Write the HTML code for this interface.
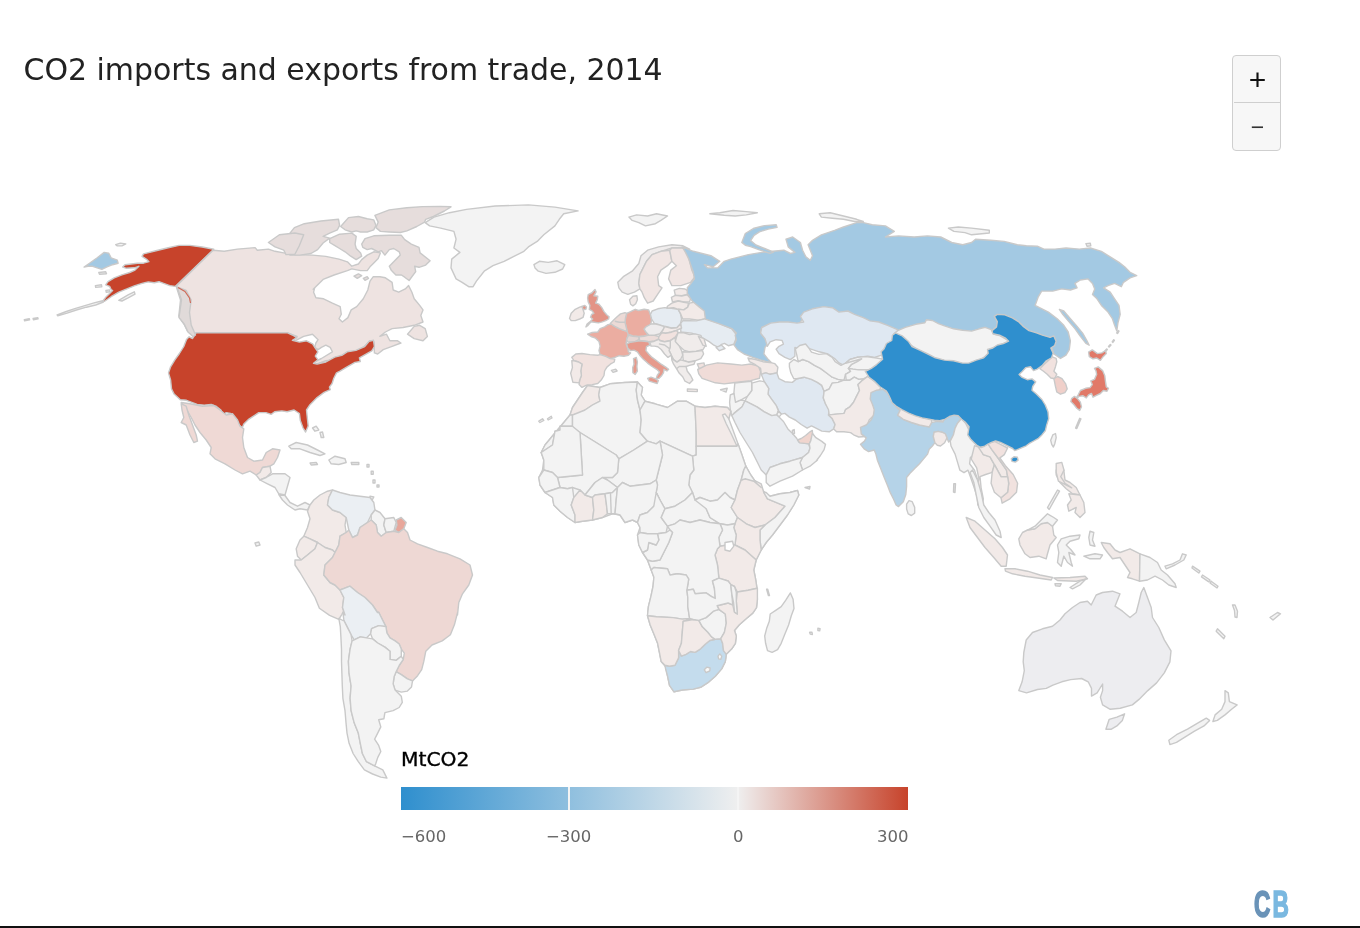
<!DOCTYPE html>
<html lang="en">
<head>
<meta charset="utf-8">
<title>CO2 imports and exports from trade, 2014</title>
<style>
html,body{margin:0;padding:0;background:#fff;}
body{width:1360px;height:928px;position:relative;overflow:hidden;font-family:"DejaVu Sans","Liberation Sans",sans-serif;}
#title{position:absolute;left:23.5px;top:50px;font-size:29.95px;line-height:40px;color:#222;white-space:nowrap;letter-spacing:0px;font-weight:normal;margin:0;}
#zoom{position:absolute;left:1232px;top:54.6px;width:47px;height:94px;border:1.5px solid #cfcfcf;border-radius:4px;background:#f7f7f7;box-sizing:content-box;}
#zoom div{position:absolute;left:1px;width:47px;height:47px;text-align:center;color:#111;font-family:"Liberation Sans",sans-serif;}
#zin{top:0;height:46px !important;border-bottom:1.5px solid #cfcfcf;font-size:30px;line-height:47px;}
#zout{top:47.5px;font-size:23px;line-height:49px;color:#333 !important;}
#map{position:absolute;left:0;top:0;}

#legtitle{position:absolute;left:401px;top:746.5px;font-size:20.3px;line-height:24px;color:#000;-webkit-text-stroke:0.35px #000;}
#bar{position:absolute;left:401px;top:787px;width:507px;height:23px;background:linear-gradient(to right,#2f8fce 0%,#efefef 66.4%,#c7432b 100%);}
#bar i{position:absolute;top:0;width:1.5px;height:23px;background:#f4f4f4;}
.lab{position:absolute;top:826px;font-size:16.5px;line-height:22px;color:#666;white-space:nowrap;}
#cb{position:absolute;left:1254.2px;top:885.3px;font-family:"Liberation Sans",sans-serif;font-weight:bold;font-size:36.6px;line-height:40px;transform-origin:0 0;transform:scaleX(0.62);letter-spacing:3.5px;white-space:nowrap;}
#cb .c{color:#6a93b8;-webkit-text-stroke:1.6px #6a93b8;}
#cb .b{color:#7ab8e0;-webkit-text-stroke:1.6px #7ab8e0;}
#bottom{position:absolute;left:0;top:926.4px;width:1360px;height:2px;background:#111;}
</style>
</head>
<body>
<svg id="map" width="1360" height="928" viewBox="0 0 1360 928">
<g fill="#f3f3f3" stroke="#c9c9c9" stroke-width="1.4" stroke-linejoin="round">
<path fill="#c7432b" d="M213.8,249.3 202.2,247 189.9,245.4 179,245.4 168.2,247.8 155.9,250.8 143.5,253.9 142,256.3 146.6,259.3 148.9,261.7 143.5,263.2 137.4,263.2 131.2,264 125,264.7 122.7,267.1 126.5,268.3 134.3,267.8 138.9,266.3 135,270.1 129.6,272.5 121.9,274.8 114.2,277.9 108,281.7 105.7,284.8 109.6,286.4 111.1,289.5 112.6,290.5 106.5,296.4 102.6,301.3 104.6,301.3 111.1,296.7 118.8,292.1 128.1,288.4 134.3,285.9 142,283.4 148.2,281.9 154.3,282.7 159,281.7 163.6,283.3 169.8,285.6 175.2,286.4Z"/>
<path d="M57.1,314.9 66.3,311.5 75.6,308.4 84.9,305.7 94.1,302.9 102.6,300.7 103.4,302 95.7,305 86.4,307.2 76.4,310 67.1,313.1 57.8,315.9Z"/>
<path d="M118.8,300.3 128.1,294.9 134.3,291.8 135,294.1 128.1,297.9 121.9,301Z"/>
<path d="M24.3,319.6 29.3,318.6 29.6,319.9 24.6,320.8Z"/>
<path d="M33.1,318.5 37.8,317.6 38.1,318.8 33.4,319.7Z"/>
<path fill="#a3c9e3" d="M84.1,267.1 89.5,263.2 97.2,257.8 104.2,252.4 108.8,253.2 111.1,257.8 117.3,260.1 118.1,263.2 112.6,264.7 106.5,267.1 101.8,269.4 97.2,267.8 92.6,266.3 87.9,266.3Z"/>
<path d="M115.7,244.7 120.4,243.1 125.8,243.9 121.9,245.9 117.3,245.9Z"/>
<path d="M98.8,272.5 105.7,271.7 106.5,273.7 99.5,274.3Z"/>
<path d="M95.4,285.6 101.5,284.8 101.8,286.8 95.7,287.4Z"/>
<path d="M105.9,290.5 109.6,289.9 109.9,291.8 106.2,292.2Z"/>
<path fill="#eee3e1" d="M213.1,250.2 224.2,251.3 237.4,249.1 255.1,247.6 257.3,250.2 268.4,249.1 275,251.3 283.8,252.9 294.9,254.6 312.5,255.1 325.8,256.4 339,259.1 347.4,261.8 351.8,266.2 358.4,264 361.7,259.6 367.2,255.1 373.8,251.8 380.4,252.9 378.2,258.5 373.8,262.9 370.5,266.2 367.2,270.6 360.6,270.6 351.8,268.9 347.4,270.6 334.1,275 323.1,279.4 313.2,289.3 314.7,287.8 313.6,292.2 315.9,297.7 323.6,298.8 332.4,303.2 340.2,306.6 341.3,314.3 339,318.7 342.4,322 347.9,317.6 351.2,309.9 356.7,306.6 363.3,298.8 367.8,290 370,281.1 373.3,276.7 379.9,276.7 385.4,277.8 392.1,282.3 393.2,290 398.7,292.2 405.3,288.9 408.6,285.6 411.9,292.2 414.2,298.8 419.7,305.4 423,309.9 420.8,315.4 423,322 414.2,325.3 403.1,327.5 392.1,328.6 385.4,332 379.9,336.4 386.5,334.2 389.9,340.8 397.6,340.8 400.9,343 392.1,346.3 383.2,349.6 377.7,354 374.4,352.9 373.9,341.9 370,340.8 363.3,347.4 354.5,354 343.5,358.5 334.6,359.6 325.8,360.7 317,364 312.5,362.9 321.4,358.5 332.4,351.8 330.2,347.4 325.8,345.2 321.4,347.4 318.1,349.6 314.7,347.4 315.9,343 318.1,339.7 312.5,334.2 303.7,336.4 294.9,340.8 292.7,338.6 297.1,336.4 288.2,333.1 194.4,333.1 193.8,336.2 187.5,331.2 183.8,323.8 178.8,316.2 180.5,300 176.2,286.2Z"/>
<path fill="#c7432b" d="M189.1,336.8 192.6,338.5 196.2,332.7 287.1,332.7 292.4,335 296.8,337.6 292.4,340.3 299.4,342.1 306.5,340.8 312.6,343.8 315.3,348.2 317.9,351.8 315.3,356.2 317.9,359.7 313.5,363.2 317.1,364.1 325.9,362 334.7,357.1 341.8,355.3 347.1,351.8 355.9,350.4 364.7,346.5 369.1,341.2 373.5,340.3 374.4,346.5 371.8,350.9 365.6,354.4 359.4,357.9 360.3,361.5 355,362.4 347.1,366.8 340,371.2 336.5,372.9 333.8,378.2 332.1,383.5 329.4,387.1 330.3,389.7 324.1,392.4 317.1,397.6 310,404.7 306.5,410 307.4,418.8 308.2,425.9 305.6,432.1 302.9,427.6 300.3,420.6 299.4,413.5 294.1,410 287.1,411.8 281.8,410.9 274.7,411.8 271.2,414.4 265.9,412.6 258.8,412.6 253.5,416.2 248.2,419.7 243.8,424.1 242.1,428 238.5,424.1 235.9,418.8 230.6,413.5 226.2,412.6 223.5,415.3 220.9,410 216.5,406.5 211.2,404.4 204.1,405.1 197.1,404.4 186.5,400.3 180.3,399.8 174.1,394.1 171.5,388.8 170.6,380 168.5,372.9 170.6,366.8 175,359.7 179.4,353.5 183.8,346.5 186.5,339.4Z"/>
<path fill="#e6dddc" d="M290,233.1 294.4,227.6 304.3,223.7 320.9,221 338.5,219.3 339.6,225.4 337.4,229.8 329.7,233.1 323.1,236.4 329.7,238.1 323.1,243 317.6,249.6 311,253.5 299.9,255.1 290,255.1 285.6,246.3Z"/>
<path fill="#e6dddc" d="M268.4,242.5 279.4,234.8 294.9,233 303.7,234.8 299.3,245.8 294.9,254.2 286,254.6 283.8,250.2 275,246.9Z"/>
<path fill="#e6dddc" d="M329.7,238.6 339.6,234.2 351.8,233.1 356.2,236.4 355.1,244.1 356.2,248.5 360.6,252.9 361.7,256.2 356.2,259.6 350.7,256.2 345.1,251.8 339.6,248.5 334.1,245.2 329.7,242.5Z"/>
<path fill="#e6dddc" d="M340.7,226.5 348.5,217.6 358.4,216.5 367.2,218.7 373.8,219.9 376,225.4 373.8,229.8 367.2,232 360.6,232 356.2,230.9 351.8,232 345.1,229.8Z"/>
<path fill="#e6dddc" d="M374.9,215.4 389.3,209.9 406.9,207.7 422.4,206.6 440,206.4 451,206.8 444.4,211 433.4,216.5 425.7,219.3 424.6,222.1 416.8,226.5 406.9,230.9 400.3,232.5 389.3,232 380.4,231.4 376,227.6 378.2,222.1Z"/>
<path fill="#e6dddc" d="M361.7,244.1 365,238.6 373.8,235.8 389.3,235.3 401.4,235.3 404.7,239.7 411.3,244.1 419,247.4 420.1,252.9 430.1,260.7 425.7,265.1 419,267.3 414.6,266.2 415.7,271.7 409.1,280.5 404.7,277.2 401.4,275 395.9,275 391.5,270.6 389.3,266.2 395.9,259.6 400.3,255.1 399.2,251.8 393.7,248.5 389.3,249.6 384.9,255.1 381.5,250.7 378.2,251.8 371.6,248.5 367.2,249.6 362.8,247.4Z"/>
<path fill="#e6dddc" d="M354,276.1 358.4,273.9 361.7,275.6 357.3,278.3Z"/>
<path fill="#e6dddc" d="M363.3,278.3 367.2,276.7 368.5,278.5 365,280.3Z"/>
<path fill="#eee3e1" d="M407.5,334.2 414.2,326.4 419.7,325.3 425.2,328.6 427.4,336.4 423,340.8 414.2,338.6Z"/>
<path d="M466.5,209.4 495.2,206 528.4,204.9 554.9,207.1 578.1,210.9 563.7,213.8 559.3,219.3 554.9,225.9 543.8,234.8 537.2,241.4 528.4,246.9 523.9,251.3 512.9,256.9 504.1,261.3 493,265.7 484.2,271.2 476.4,281.1 473.1,286.7 468.7,286.7 462.1,282.3 456.1,278.9 451,267.9 451.7,259.1 459.9,252.4 453.9,248 456.1,239.2 453.9,231.4 440.7,228.1 429.6,225.9 425.2,222.6 434,217.1 449.5,212.7Z"/>
<path d="M533.9,264.6 539.4,261.3 548.2,262.4 557.1,260.8 564.8,264.6 562.6,269 554.9,272.3 546,273.4 538.3,271.2 535,267.9Z"/>
<path d="M628.9,217.1 636.6,214.9 647.6,216 656.5,213.8 667.5,216 660.9,220.4 655.4,223.7 645.4,225.9 638.8,222.6 632.2,220.4Z"/>
<path fill="#f0eded" d="M617.8,282.3 623.3,276.7 632.2,271.2 638.8,263.5 641,255.7 647.6,250.2 658.7,246.9 671.9,244.7 683,245.8 689.6,249.1 681.9,248 671.9,248 660.9,251.3 652.1,254.6 646.5,261.3 643.2,267.9 639.9,274.5 638.8,283.4 639.9,288.9 634.4,292.2 627.8,294.4 622.2,292.2 618.9,287.8Z"/>
<path fill="#f1e6e4" d="M639.9,288.9 638.8,283.4 639.9,274.5 643.2,267.9 646.5,261.3 652.1,254.6 660.9,251.3 669.7,250.2 671.9,261.3 667.5,265.7 660.9,270.1 657.6,276.7 658.7,285.6 662,287.8 657.6,294.4 653.2,301 647.6,303.2 644.3,297.7 642.1,292.2Z"/>
<path fill="#f1e6e4" d="M669.7,250.2 671.9,248 683,248 687.4,252.4 689.6,261.3 691.8,270.1 695.1,276.7 690.7,282.3 680.8,285.6 671.9,285.6 668.6,278.9 670.8,270.1 676.4,265.7 671.9,261.3Z"/>
<path fill="#f2eae8" d="M629.5,299.7 632.9,296.3 636.9,295.8 637.4,299.7 635.7,303.7 632.9,305.9 630.6,304.2Z"/>
<path fill="#e39486" d="M588.2,294.6 591.6,292.9 595,289.5 596.1,291.8 593.9,295.8 597.8,296.3 597.3,299.7 595.6,303.1 599,304.2 601.8,307.6 604,311.6 606.9,315 609.1,316.7 608.6,319 605.7,320.6 602.3,321.8 598.4,322.9 594.4,322.3 591,321.8 587.6,325.7 585.9,326.9 587.1,324 590.5,321.2 592.7,319 590.5,317.3 591.6,314.4 593.9,313.3 592.2,311 589.3,309.3 589.9,305.4 588.2,302 587.6,298Z"/>
<path fill="#e39486" d="M582,306.5 584.8,305.4 586.5,307.1 585.9,309.3 583.1,309.9Z"/>
<path fill="#f2eae8" d="M569.5,318.4 571.2,313.3 575.2,309.3 579.7,307.1 582,306.5 583.1,309.9 584.2,313.3 583.1,317.3 579.7,319 575.2,320.6 571.2,320.6Z"/>
<path fill="#ebada1" d="M587.6,334.2 592.2,332.5 597.8,332 600.1,328.6 604.6,326.9 608,324.6 611.4,324 614.8,326.3 619.3,328.6 623.9,330.3 627.2,331.4 628.4,334.8 626.7,339.3 626.1,343.9 627.8,348.4 628.4,351.8 630.6,352.9 628.4,355.2 623.9,356.3 619.3,355.7 614.8,357.4 610.3,358.6 605.7,356.3 600.1,354.6 599,350.6 600.1,346.1 599,341.6 595.6,338.2 591,336.5Z"/>
<path fill="#e69a8c" d="M633.5,358.6 636.3,357.4 637.4,362 636.9,366.5 637.4,371 635.2,374.4 632.9,372.7 632.7,367.6 634,364.2Z"/>
<path d="M611.4,370.4 615.9,369.3 617.1,371 613.1,372.4Z"/>
<path fill="#ebada1" d="M626.7,313.3 630.6,311.6 635.2,309.3 638.6,310.5 644.2,309.3 648.7,309.9 650.4,314.4 651.6,319 651,323.5 649.3,325.7 646.5,326.9 644.2,329.1 645.9,332 648.7,334.8 644.2,335.9 638.6,336.5 632.9,335.9 630.1,334.8 628.4,334.8 627.2,331.4 626.1,326.9 625,322.3 625.5,317.8Z"/>
<path fill="#ecdad6" d="M610.3,323.5 613.7,320.1 617.1,316.7 620.5,313.9 625,312.7 626.7,313.3 625.5,317.8 625,322.3 626.1,326.9 627.2,331.4 623.9,330.3 619.3,328.6 614.8,326.3Z"/>
<path fill="none" d="M614.8,321.2 619.3,322.3 625,322.3"/>
<path fill="#e6d6d3" d="M626.7,339.3 628.4,335.4 632.9,336.2 638.6,336.8 639.1,339.3 635.2,341.6 630.6,342.2 627.2,341.6Z"/>
<path fill="#ecdcd9" d="M639.1,336.8 644.2,336.2 648.7,335 654.4,335.4 658.9,336.5 658.4,339.3 654.4,341 648.7,341.6 644.2,341 639.7,340.5Z"/>
<path fill="#e69a8c" d="M627.8,348.4 626.7,343.9 630.6,342.2 635.2,341.6 639.7,340.7 644.2,341.2 648.7,341.8 649.9,345 646.5,346.7 645.9,350.6 648.7,354 652.1,357.4 656.7,360.8 661.2,364.2 665.7,367.1 668.6,369.3 666.9,371 664,369.3 663.5,372.7 661.8,375.5 658.9,378.4 656.1,378.9 657.2,375.5 659.5,372.1 656.7,369.3 652.1,366.5 647.6,363.1 643.1,359.1 639.7,355.2 637.4,351.8 634,350.1 630.6,350.6Z"/>
<path fill="#e69a8c" d="M647.6,378.4 651,377.2 655.5,378.9 658.4,380.6 657.2,383.5 653.3,382.3 649.3,381.2Z"/>
<path fill="#f1e2df" d="M571.8,357.4 575.8,354 582,353.5 589.9,354.6 597.8,355.2 600.1,354.6 605.7,356.3 610.3,358.6 614.8,359.1 614.2,362 610.3,364.2 606.9,367.1 604.6,371 604,375.5 601.2,380.1 597.8,383.5 592.2,384.6 586.5,385.2 582,387.4 579.1,384.6 579.7,380.1 581.4,375.5 580.8,371 582,364.2 578.6,362 574.1,360.8Z"/>
<path fill="#f2eae8" d="M571.8,360.8 574.1,360.8 578.6,362 582,364.2 580.8,371 581.4,375.5 579.7,380.1 579.1,382.9 572.9,382.3 571.8,377.8 570.7,373.3 572.4,367.6Z"/>
<path fill="#e6ecf2" d="M652.1,311 657.8,308.8 664.6,307.6 671.4,308.2 678.2,309.3 680.4,313.3 681.6,319 680.4,324 677,327.4 671.4,328 664.6,326.3 658.9,324.6 654.4,323.5 651.6,319 650.4,314.4Z"/>
<path fill="#eeeced" d="M645.9,326.9 651,324 654.4,323.7 658.9,324.8 664.6,326.6 662.9,330.3 660.1,333.7 654.4,335.2 648.7,335 645.9,332 644.2,329.1Z"/>
<path fill="#f2eae8" d="M674.2,290.1 679.3,288.4 685,289 688.4,291.2 687.2,294.6 681.6,295.8 675.3,295.2Z"/>
<path fill="#f2eae8" d="M671.4,297.4 675.3,295.4 681.6,296 687.2,294.8 690.6,298.6 689.5,302 683.8,302 678.2,300.8 672.5,302Z"/>
<path fill="#f2eae8" d="M671.9,303.1 678.2,301.1 683.8,302.2 688.4,303.1 687.8,307.1 683.8,309.9 678.2,309.3 673.6,307.6 666.9,308.2 667.4,306.3Z"/>
<path fill="#f2eae8" d="M678.2,309.3 683.8,309.9 687.8,307.1 689.5,303.1 695.1,302 700.8,303.7 704.2,307.6 706.5,314.4 705.9,319 698.5,320.1 689.5,319 682.7,319 680.4,313.3Z"/>
<path fill="#e6ecf2" d="M680.8,323.1 683,320.5 696.2,320.9 705.1,318.7 718.3,323.1 731.6,328.6 736,334.2 735.6,339.7 733.8,344.3 728.3,345.7 724.5,343.4 721.6,344.3 718.3,347.4 713.9,345.2 709.5,341.9 704,338.6 698.4,336.4 691.8,333.1 680.8,332Z"/>
<path fill="#e6ecf2" d="M716.1,347.4 721.6,345.2 725,348.5 719.4,350.7Z"/>
<path fill="#f2eae8" d="M662.9,330.3 664.6,326.6 671.4,328.2 677,327.8 680.4,324 681.6,328 676.5,330.5 671.4,332 665.7,333.1 661.8,332.8 660.1,333.7Z"/>
<path fill="#f1e2df" d="M658.9,336.5 661.8,332.8 665.7,333.3 671.4,332.2 676.5,330.5 678.2,332.5 675.3,337.1 670.3,340.5 664.6,341.6 660.1,340.5 658.4,339.1Z"/>
<path fill="#f0eceb" d="M676.5,337.1 678.2,332.5 683.8,332.8 689.5,334.5 695.1,333.9 700.8,335.4 703.6,341.6 705,346.1 703.1,349.5 696.3,351.2 689.5,351.8 683.8,350.1 679.3,346.1 675.3,341.6Z"/>
<path fill="#f2eae8" d="M698.4,336.4 704,338.6 706.2,346.3 702.9,345.2Z"/>
<path fill="#f0eceb" d="M682.7,351.8 689.5,352 696.3,351.4 702.5,350.6 703.6,354 700.8,358.6 695.1,360.8 688.4,362 683.3,360.3 682.7,355.7Z"/>
<path fill="#f0eceb" d="M670.3,340.7 675.3,337.3 675.3,341.6 679.3,346.1 681.6,350.6 682.7,355.2 680.4,359.7 677,362 673.6,359.7 671.4,355.2 669.1,350.6 670.3,346.1Z"/>
<path fill="#f0eceb" d="M649.9,342.2 654.4,341.2 658.9,339.3 660.1,340.7 664.6,341.8 670.3,340.7 670.3,346.1 669.1,350.6 671.4,355.2 668,357.4 664.6,354 661.2,349.5 657.8,346.7 654.4,346.1 651,346.1Z"/>
<path fill="none" d="M658.9,343.9 664.6,345 669.1,348.4"/>
<path fill="#f0eceb" d="M671.4,355.7 673.6,359.9 677,362.2 680.4,359.9 683.3,360.5 688.4,362.2 695.1,361.1 694,364.2 689.5,365.4 686.1,366.5 687.2,371 690.6,375.5 692.9,380.1 689.5,383.5 685,381.2 682.7,376.7 679.3,373.3 676.5,368.7 673.6,364.2 671.9,360.3Z"/>
<path fill="none" d="M676.5,368.7 679.3,366.5 686.1,366.5"/>
<path fill="#f2eae8" d="M687.4,388.9 697.3,389.4 697.3,391.6 687.4,391.2Z"/>
<path fill="#f1e2df" d="M697.3,364 704,362.9 705.1,368.4 699.6,369.5Z"/>
<path d="M720.5,389.8 727.2,388.3 726.1,392Z"/>
<path fill="#a3c9e3" d="M682.2,246.9 693.3,251.3 710.9,255.7 719.8,261.3 713.1,266.8 704.3,264.6 707.6,267.9 717.6,267.9 724.2,261.3 730.8,259.1 739.6,256.9 748.5,254.6 761.7,252.4 772.8,251.3 783.8,250.2 790.4,253.5 794.9,252.4 788.2,246.9 786,239.2 792.7,237 800.4,242.5 802.6,250.2 805.9,256.9 810.3,260.2 812.5,255.7 810.3,250.2 808.1,244.7 812.5,240.3 821.4,234.8 834.6,230.3 843.5,227 856.7,222.6 863.3,222.6 872.2,224.8 885.4,225.9 894.3,231.4 885.4,237 898.7,235.9 914.2,237 927.4,235.9 940.7,237 951.7,242.5 962.7,244.7 971.6,242.5 975.5,239.2 990.9,240.3 1004.2,241.4 1017.4,244.7 1026.3,245.8 1037.3,246.2 1043.9,249.1 1055,249.1 1066,248 1079.3,249.1 1090.3,248 1101.4,251.3 1110.2,256.9 1119,262.4 1124.6,266.8 1130.1,272.3 1136.7,275.6 1130.1,277.8 1123.5,282.3 1121.3,286.7 1114.6,283.4 1108,285.6 1103.6,287.8 1110.2,292.2 1114.6,298.8 1119,305.4 1120.2,314.3 1117.9,323.1 1116.8,330.9 1114.6,325.3 1112.4,318.7 1108,312.1 1101.4,305.4 1097,298.8 1092.5,294.4 1094.7,288.9 1092.5,283.4 1088.1,278.9 1080.4,280 1074.9,283.4 1077.1,287.8 1070.4,290 1061.6,288.9 1052.8,291.1 1041.7,291.1 1038.4,296.6 1035.1,305.4 1039.5,307.7 1048.4,312.1 1057.2,318.7 1063.8,325.3 1068.2,332 1070.4,340.8 1069.3,349.6 1066,355.2 1060.5,358.5 1053.9,354 1051.7,347.4 1052.8,341.9 1050.6,339.7 1046.1,341.9 1039.5,339.7 1030.7,336.4 1021.9,329.7 1015.2,325.3 1008.6,322 1002,320.9 1000.9,325.3 997.6,332 992,336.4 986.5,334.2 979.9,334.8 971.6,334.2 962.7,333.1 951.7,330.9 940.7,328.6 931.8,326.4 925.2,330.9 914.2,329.7 905.3,332 898.7,335.3 894.3,336.4 887.6,330.9 878.8,327.5 870,326.4 863.3,323.1 854.5,319.8 847.9,316.5 839,317.6 832.4,313.2 823.6,312.1 812.5,314.3 803.7,317.6 800.4,322 803.7,327.5 797.1,328.6 788.2,327.5 779.4,327.5 770.6,328.6 761.7,327.5 760.6,333.1 765,338.6 768.4,343 765,347.4 763.9,354 768.4,359.6 771.7,362.9 767.3,361.8 759.5,359.6 752.9,357.4 744.1,354 737.4,349.6 734.1,345.2 736.3,339.7 735.2,335.3 736.3,333.1 731.9,328.6 718.7,323.6 705.4,319.1 704.3,311 698.8,306.6 692.1,301 687.3,293.3 687.3,287.8 691,283.4 694.4,278.9 693.3,272.3 691,265.7 688.8,259.1 685.5,252.4Z"/>
<path fill="#a3c9e3" d="M741.8,242.4 745.3,233.5 754.1,228.2 764.7,225.6 776.2,224.7 777.1,227.4 768.2,229.1 759.4,231.8 754.1,235.3 750.6,240.6 755.9,245 764.7,248.5 773.5,252.1 770,253.3 759.4,249.8 750.6,246.6 745.3,245.2Z"/>
<path d="M709.8,213.8 719.8,212.7 733,210.5 746.3,211.6 757.3,212.7 746.3,214.9 735.2,216 724.2,215.3Z"/>
<path d="M819.2,213.8 830.2,212.7 843.5,216 856.7,219.3 863.3,221.5 854.5,221.5 843.5,219.3 832.4,218.2 821.4,217.1Z"/>
<path d="M948.4,228.1 958.3,227 971.6,228.1 989.3,230.3 989.3,233 971.6,234.8 965,232.6 953.9,231.4Z"/>
<path d="M1085.9,243.6 1090.3,243.2 1090.8,245.8 1087,246.2Z"/>
<path fill="#a3c9e3" d="M1059.4,309.4 1063.8,311 1070.4,318.7 1077.1,326.4 1082.6,333.1 1087,340.8 1089.2,345.2 1085.9,343.4 1080.4,336.4 1074.9,328.6 1068.2,320.9 1062.7,314.3Z"/>
<path fill="#dfe8f2" d="M761.7,327.5 770.6,323.1 779.4,322 788.2,322 797.1,323.1 803.7,322 800.4,316.5 803.7,312.1 812.5,308.8 823.6,306.6 832.4,307.7 839,312.1 847.9,311 854.5,314.3 863.3,317.6 870,320.9 878.8,322 887.6,325.3 897.6,329.7 898.7,336.4 893.2,341.9 889.9,347.4 885.4,354 874.4,357.4 867.8,356.3 856.7,357.4 850.1,359.6 843.5,365.1 839,362.9 834.6,358.5 828,354 819.2,351.8 812.5,349.6 805.9,347.4 800.4,349.6 794.9,347.4 794.9,356.3 790.4,359.6 784.9,357.4 779,353.6 776.1,349.2 779,346.3 783.4,344.1 782.1,340.4 776.1,339.7 770.1,341.9 767.3,346.3 765,338.6 760.6,333.1Z"/>
<path d="M893.9,333.7 897.7,330.6 905.3,327.3 915.8,324.3 924.9,322.8 926.4,319.8 932.4,320.5 938.4,323.6 944.5,325.8 953.5,328.8 962.6,330.3 971.6,331.1 979.2,328.8 985.2,327.3 991.2,329.6 993.5,334 1000.3,335.9 1009.3,341.2 1003.3,344.2 995.8,346.5 988.2,350.3 988.2,354.8 980.7,359.3 968.6,364.6 953.5,362.3 935.4,359.3 920.3,351.8 909.8,344.2 902.2,337.4Z"/>
<path d="M1050.7,440.3 1052.8,434.9 1055.5,433.5 1056.2,437.6 1054.8,443.7 1053.4,447.1 1051.7,444.4Z"/>
<path fill="#f0dcd8" d="M697.7,369.5 706.5,365.1 717.6,362.9 730.8,364 741.9,365.1 750.7,364 758.4,366.2 760.6,371.7 759.5,378.3 750.7,380.6 741.9,381.7 733,382.8 724.2,383.9 715.3,382.8 708.7,380.6 702.1,378.3 698.8,373.9Z"/>
<path fill="#f2eae8" d="M748,358 755.4,359.5 762.8,361.7 771.7,362.8 774.9,363.7 777.9,367.2 777,373.1 773.9,373.5 770.2,374.3 765.8,372.8 761.3,374.3 760.6,368.4 755.4,364.7 749.5,361.7Z"/>
<path fill="#e0e8f1" d="M761.3,374.3 765.8,372.8 770.2,374.3 773.9,373.5 776.8,372.8 779,378.7 784.9,381.7 792.3,382.4 796.8,378.7 804.1,377.2 811.5,379.4 817.4,382.4 821.8,385.4 824.1,391.3 823.3,397.9 825.5,403.8 829.2,409.7 828.5,414.9 832.2,418.6 835.1,424.5 833.7,428.9 829.2,431.8 821.8,431.1 814.5,427.4 811.5,425.9 807.1,428.2 801.2,424.5 795.3,420 789.4,417.1 784.9,413.4 781.3,414.1 778.3,410.4 776.1,405.3 771.7,399.4 768,394.2 768.7,388.3 764.3,381.7Z"/>
<path d="M751.7,383.1 759.9,380.9 764.3,381.7 768.7,388.3 768,394.2 771.7,399.4 776.1,405.3 778.3,410.4 776.8,414.9 771.7,415.6 764.3,411.9 756.9,406.8 749.5,403.1 745.1,400.8 747.3,396.4 751.7,390.5Z"/>
<path d="M734.8,383.1 743.6,382 751.7,381.4 751.7,390.5 747.3,396.4 740.7,400.1 735.5,402.3 733.3,397.9 734,392Z"/>
<path d="M730.3,394.9 734,393.5 735.5,402.3 740.7,400.1 745.1,400.8 742.1,406.8 737.7,410.4 734,413.4 731.8,415.6 730.3,409.7 729.6,402.3Z"/>
<path d="M778.3,411.2 781.3,414.1 779,417.1 776.8,414.9Z"/>
<path d="M789.4,363.2 793.8,359.5 798.2,361.7 802.7,359.5 808.6,361.7 814.5,365.4 820.4,368.4 826.3,372.8 832.2,377.2 838.1,379.4 844,380.2 838.1,382.4 832.2,383.1 829.2,389 824.1,391.3 821.8,385.4 817.4,382.4 811.5,379.4 804.1,377.2 796.8,378.7 793.8,378.7 790.8,372.8 789.4,366.9Z"/>
<path d="M795.3,349.2 799.7,345.5 805.6,344 808.6,347.7 811.5,352.1 818.9,354.4 826.3,353.6 832.2,357.3 835.1,361.7 841,365.4 845.5,363.2 849.9,359.5 857.3,357.3 861.7,358.8 857.3,361.7 851.4,364.7 848.4,368.4 850.6,371.3 845.5,374.3 844,380.2 838.1,379.4 832.2,377.2 826.3,372.8 820.4,368.4 814.5,365.4 808.6,361.7 802.7,359.5 798.2,361.7 796.8,355.1Z"/>
<path d="M845.5,363.2 849.9,359.5 857.3,357.3 866.1,356.6 876.5,358 885.3,359.5 882.4,363.9 876.5,366.9 870.6,369.9 858.7,369.9 852.8,369.1 848.4,368.4 851.4,364.7 857.3,361.7 861.7,358.8Z"/>
<path d="M845.5,374.3 850.6,371.3 848.4,368.4 852.8,369.1 858.7,369.9 870.6,369.9 873.5,374.3 869.1,378.7 858.7,379.4 854.3,377.2 849.9,380.2 846.2,380.2Z"/>
<path d="M824.1,391.3 829.2,389 832.2,383.1 838.1,382.4 844,380.2 846.2,380.2 849.9,380.2 854.3,377.2 858.7,379.4 863.9,378.7 867.6,376.5 861.7,380.9 858,384.6 859.5,390.5 856.5,396.4 853.6,402.3 849.9,406.8 845.5,409.7 844,413.4 836.6,414.1 829.2,414.9 828.5,409.7 825.5,403.8 823.3,397.9Z"/>
<path fill="#f2eae8" d="M829.2,414.9 836.6,414.1 844,413.4 845.5,409.7 849.9,406.8 853.6,402.3 856.5,396.4 859.5,390.5 858,384.6 861.7,380.9 867.6,376.5 873.5,380.2 877.9,384.6 880.9,387.6 877.9,392 878.7,396.4 880.9,402.3 877.9,409.7 874.2,414.9 869.1,420 867.6,424.5 869.8,430.4 869.1,436.3 858.7,437 853.6,434.8 850.6,432.6 844,431.8 836.6,431.8 833.7,428.9 835.1,424.5 832.2,418.6 828.5,414.9Z"/>
<path fill="#b5d3e8" d="M871,392.6 876.7,390.2 883.1,389.4 888.8,394.2 892.8,400.7 896.1,406.4 900.1,410.4 897.7,415.3 903.3,419.3 911.4,422.5 919.5,425 929.2,426.9 931.6,422.5 937.3,421.4 943,421.7 944.6,418.5 950.2,415.3 955.9,413.6 961.5,418.5 957.5,423.3 955.1,428.2 953.5,434.7 951,439.5 948.6,441.9 947,437.9 945.4,433.9 942.1,432.2 938.1,431.4 934.1,432.2 933.3,436.3 934.9,442.7 932.4,446 929.2,449.2 927.6,454.1 923.6,458.9 919.5,463.8 914.7,468.6 909.8,473.5 906.6,477.5 906.6,486.4 905.8,494.5 903.3,501.7 898.5,506.6 896.1,505 893.6,499.3 890.4,492.9 887.2,484.8 883.9,476.7 880.7,468.6 877.5,460.5 875.9,454.1 874.2,450 868.6,451.6 864.5,449.2 860.5,444.4 864.5,441.1 866.2,437.9 861.3,433.9 860.5,427.4 866.2,425 871,420.1 873.4,415.3 874.2,409.6 872.6,404.8 870.2,399.1Z"/>
<path fill="#f2eae8" d="M896.1,406.4 900.1,410.4 897.7,415.3 903.3,419.3 911.4,422.5 919.5,425 929.2,426.9 931.6,422.5 931.6,416.9 921.1,415.3 911.4,412 901.7,406.4Z"/>
<path d="M937.3,421.4 943,421.7 944.6,418.5 944.6,415.3 937.3,416.1Z"/>
<path fill="#f2eae8" d="M934.1,432.2 938.1,431.4 942.1,432.2 945.4,433.9 947,437.9 944.6,442.7 940.5,446 937.3,445.2 934.9,442.7 933.3,436.3Z"/>
<path d="M906.6,504.2 909,500.6 912.2,501.7 914.7,507.4 914.7,513.1 911.4,515.5 908.2,513.9 906.6,509Z"/>
<path d="M953.5,434.7 955.1,428.2 957.5,423.3 961.5,418.5 965.6,423.3 968.8,429.8 969.6,436.3 974.5,442.7 979.3,447.6 976.1,454.1 970.4,457.3 969.6,463.8 974.5,470.2 977.7,479.9 978.5,489.6 976.9,496.1 973.7,486.4 970.4,476.7 968,470.2 964,472.7 959.9,470.2 957.5,462.1 955.1,454.1 951,446 950.2,441.1Z"/>
<path fill="#f2eae8" d="M971.2,459 974.5,445.8 981.1,447.6 983.3,454.6 990,456.8 994.4,464.6 992.2,472.3 985.6,474.5 980,476.7 981.1,487.8 983.3,498.8 982.2,505 977.8,505 976.7,487.8 978.9,478.9 976.7,467.9Z"/>
<path fill="#f2eae8" d="M976.7,444.7 981.1,447.6 987.8,443.6 992.2,450.2 998.8,459 1006.5,470.1 1007.6,476.7 1001,476.7 994.4,464.6 990,456.8 983.3,454.6Z"/>
<path fill="#f1e2df" d="M987.8,443.6 994.4,441.4 1001,444.7 1007.6,448 1004.3,454.6 999.9,457.9 1005.4,465.7 1013.2,474.5 1017.6,483.3 1016.5,492.2 1009.9,498.8 1002.1,503.2 1001,497.7 1007.6,492.2 1008.7,483.3 1007.6,476.7 1006.5,470.1 998.8,459 992.2,450.2Z"/>
<path fill="#f2eae8" d="M992.2,472.3 994.4,464.6 1001,476.7 1007.6,476.7 1008.7,483.3 1007.6,492.2 1001,497.7 994.4,492.2 991.1,483.3Z"/>
<path fill="#f1e2df" d="M1039.9,368.7 1044.3,364.2 1048.7,360.3 1051.7,356.6 1056.1,358.3 1056.8,361.7 1055.4,366.9 1053.9,371.3 1056.8,374.3 1054.6,378.7 1050.9,378 1047.2,374.3 1043.5,371.3Z"/>
<path fill="#f0d0ca" d="M1053.9,378.7 1057.6,376.5 1062,378.7 1065.7,383.9 1067.2,389 1064.9,392.7 1060.5,394.2 1056.8,392 1055.4,386.1Z"/>
<path fill="#e17968" d="M1088.6,352.1 1092.3,349.9 1097.4,353.6 1101.8,352.9 1105.5,350.7 1106.3,353.6 1102.6,357.3 1100.4,360.3 1096.7,358 1093,358.8 1089.3,356.6Z"/>
<path fill="#e17968" d="M1094.5,368.4 1098.2,366.9 1102.6,370.6 1104.8,375.8 1105.5,381.7 1106.3,386.8 1108.5,388.3 1107,391.3 1103.3,390.5 1100.4,393.5 1095.9,395.7 1093,397.2 1091.5,393.5 1088.6,394.9 1086.3,397.9 1082.7,395.7 1079,396.4 1075.3,399.4 1078.2,394.9 1080.4,390.5 1085.6,388.3 1090,387.6 1092.3,384.6 1090.8,380.9 1094.5,379.4 1096.7,374.3 1095.9,370.6Z"/>
<path fill="#e17968" d="M1071.6,398.6 1074.5,396.4 1077.5,398.6 1080.4,402.3 1081.5,406.8 1079.7,410.4 1076.8,408.2 1073.8,404.5 1070.8,401.6Z"/>
<path d="M1079.7,418.3 1080.9,418.9 1076.8,428.6 1075.6,428Z"/>
<path d="M1105.1,350.7 1106.6,348.9 1107.3,349.5 1105.8,351.3Z"/>
<path d="M1108.5,346.5 1110.3,344.5 1111,345.1 1109.2,347.1Z"/>
<path d="M1112.2,341.8 1113.7,339.7 1114.4,340.3 1112.9,342.4Z"/>
<path d="M1116.6,333 1118.1,330.6 1119,331.2 1117.5,333.5Z"/>
<path fill="#efd9d5" d="M181.2,402.5 190,403.8 202.5,406.2 213.8,405.5 220,410 226.2,415 232.5,413.8 237.5,420 240,426.2 243.8,428.8 242.5,437.5 243.8,447.5 247.5,457.5 253.8,461.2 262.5,460 266.2,452.5 272.5,448.8 280,450 277.5,457.5 273.8,463.8 270,466.2 262.5,467.5 260,472.5 256.2,475 250,471.2 242.5,473.8 235,470 225,463.8 215,458.8 210,453.8 211.2,447.5 206.2,440 200,432.5 195,425 191.2,417.5 187.5,411.2 183.8,406.2Z"/>
<path fill="#efd9d5" d="M181.2,403.8 186.2,406.2 188.8,415 192.5,425 196.2,435 197.5,441.2 193.8,442.5 190,435 186.2,425 181.2,422.5 183.8,417.5 182,410Z"/>
<path fill="#f2eae8" d="M256.2,475 260,472.5 262.5,467.5 270,466.2 271.2,472.5 266.2,477.5 260,480Z"/>
<path d="M266.2,477.5 272.5,473.8 285,473.8 290,477.5 287.5,486.2 285,495 278.8,493.8 275,487.5 267.5,483.8 260,480Z"/>
<path d="M278.8,494.5 285,495.5 290,502.5 297.5,506.2 305,502.5 310,505 307.5,510 300,508.8 295,510 287.5,505 282.5,500Z"/>
<path d="M288.8,446.2 296.2,442.5 307.5,445 317.5,450 325,453.8 320,455.5 310,452.5 300,448.8 291.2,448.8Z"/>
<path d="M328.8,460 335,456.2 345,458.8 346.2,462.5 338.8,464.5 331.2,463.8Z"/>
<path d="M310,463 316.2,462.5 317.5,464.5 311.2,465Z"/>
<path d="M351.2,462.5 358.8,462.5 358.8,464.5 351.8,464.5Z"/>
<path d="M312.5,428 316.2,426.2 318.8,430 315,431.2Z"/>
<path d="M320,432.5 322.5,432 323.8,437.5 321.2,437.5Z"/>
<path d="M367,464.5 369,464.5 369,467 367,467Z"/>
<path d="M371.2,471.2 373.2,471.2 373.2,474.2 371.2,474.2Z"/>
<path d="M373,480 375,480 375,483 373,483Z"/>
<path d="M377,485 379,485 379,487 377,487Z"/>
<path d="M370,496.2 373.8,497 372.5,499.5 370,498.8Z"/>
<path d="M255,543 258.8,542 260,545 256.2,546.2Z"/>
<path fill="#f2eae8" d="M310,505 313.8,500 320,495 327.5,491.2 332.5,490 328.8,497.5 327.5,505 332.5,510 340,512.5 346.2,517.5 345,525 346.2,532.5 340,536.2 338.8,545 335,552.5 332.5,550 325,547.5 317.5,542.5 310,538.8 303.8,536.2 307.5,527.5 310,518.8 307.5,511.2Z"/>
<path fill="#ebeff3" d="M332.5,490 340,492.5 350,495 360,496.2 370,497.5 373.8,502.5 375,510 371.2,515 367.5,522.5 360,527.5 357.5,535 352.5,537.5 348.8,530 346.2,517.5 340,512.5 332.5,510 327.5,505 328.8,497.5Z"/>
<path d="M375,510 380,512.5 385,518.8 383.8,525 386.2,532.5 381.2,536.2 377.5,532.5 376.2,525 371.2,520 371.2,515Z"/>
<path d="M385,518.8 393.8,517.5 396.2,522.5 393.8,531.2 386.2,532.5 383.8,525Z"/>
<path fill="#e8a79b" d="M396.2,520 401.2,517.5 406.2,522.5 403.8,528.8 398.8,532.5 395,530 397,525Z"/>
<path fill="#f2eae8" d="M296.2,548.8 300,540 303.8,536.2 310,538.8 317.5,542.5 315,548.8 307.5,555 301.2,560 297.5,556.2Z"/>
<path fill="#f2eae8" d="M295,560 301.2,560 307.5,555 315,548.8 317.5,542.5 325,547.5 332.5,550 335,552.5 332.5,557.5 325,565 323.8,575 330,582.5 335,585 340,590 343.8,597.5 342.5,607.5 345,615 342.9,612.3 341.9,614.3 338.8,619.4 329.6,615.4 319.4,608.2 315,597.5 307.5,585 300,572.5 295,565Z"/>
<path fill="#eed8d4" d="M338.8,545 340,536.2 346.2,532.5 348.8,530 352.5,537.5 357.5,535 360,527.5 367.5,522.5 371.2,520 376.2,525 377.5,532.5 381.2,536.2 386.2,532.5 393.8,531.2 398.8,532.5 403.8,528.8 407.5,532.5 410,540 417.5,543.8 427.5,547.5 437.5,551.2 447.5,553.8 460,558.8 470,565 472.5,575 468.8,585 462.5,593.8 458.8,602.5 457.5,615 457.6,612.3 454.5,624.6 450.4,634.8 442.2,640.9 432,645 425.8,651.2 423.8,661.4 421.7,669.6 417.6,675.7 412.5,680.9 407.4,678.8 401.3,674.7 396.1,671.7 399.2,665.5 403.3,659.4 404.3,653.2 401.3,649.1 399.2,644 395.1,640.9 390,637.9 386.9,632.8 385.9,626.6 382.8,620.5 378.7,612.3 377.5,612.5 372.5,605 365,597.5 357.5,592.5 350,586.2 340,590 335,585 330,582.5 323.8,575 325,565 332.5,557.5 335,552.5Z"/>
<path fill="#ebeff3" d="M340,590 350,586.2 357.5,592.5 365,597.5 372.5,605 377.5,612.5 378.7,612.3 382.8,620.5 385.9,626.6 378.7,625.6 371.6,628.7 370.6,633.8 366.5,637.9 360.3,636.9 354.2,639.9 351.1,634.8 347,626.6 343.9,620.5 342.9,612.3 345,615 342.5,607.5 343.8,597.5Z"/>
<path d="M396.1,671.7 401.3,674.7 407.4,678.8 412.5,680.9 411.5,687 407.4,691.1 401.3,692.1 395.1,690.1 393.1,683.9 394.1,676.8Z"/>
<path d="M371.6,628.7 378.7,625.6 385.9,626.6 386.9,632.8 390,637.9 395.1,640.9 399.2,644 401.3,649.1 401.3,656.3 396.1,660.4 390,659.4 390,651.2 384.9,647.1 377.7,643 372.6,638.9 370.6,633.8Z"/>
<path d="M338.8,618.4 342.9,620.5 343.9,620.5 347,626.6 351.1,634.8 352.1,640.9 350.1,649.1 348.4,661.4 349.1,673.7 351.1,686 350.1,698.3 351.1,710.6 354.2,722.8 358.3,733.1 360.3,743.3 362.4,753.5 366.5,761.7 374.6,765.8 382.8,769.9 386.9,778.1 380.8,777.1 372.6,774 364.4,769.9 358.3,761.7 353.1,753.5 349.1,743.3 347,733.1 346,722.8 345,710.6 342.9,698.3 342.3,686 341.9,673.7 341.5,661.4 341.5,649.1 340.9,636.9 340.3,626.6Z"/>
<path d="M354.2,639.9 360.3,636.9 366.5,637.9 372.6,638.9 377.7,643 384.9,647.1 390,651.2 390,659.4 396.1,660.4 401.3,656.3 403.3,659.4 399.2,665.5 396.1,671.7 394.1,676.8 393.1,683.9 395.1,690.1 401.3,696.2 402.3,702.4 399.2,707.5 393.1,710.6 384.9,712.6 383.9,718.7 378.7,719.8 380.8,726.9 377.7,733.1 374.6,739.2 378.7,745.4 380.8,751.5 377.7,757.6 375.7,763.8 374.6,765.8 366.5,761.7 362.4,753.5 360.3,743.3 358.3,733.1 354.2,722.8 351.1,710.6 350.1,698.3 351.1,686 349.1,673.7 348.4,661.4 350.1,649.1 352.1,640.9Z"/>
<path d="M587.5,385.5 600,387.5 610,383.8 625,382.5 637.5,382 642.5,387.5 641.2,395 645,401.2 655,403.8 667.5,407.5 677.5,401.2 686.2,401.2 695,406.2 705,407.5 715,406.2 727.5,407.5 730.8,411.2 728.8,418.8 732.5,428.8 737.5,442.5 742,455 745.8,466.2 750.8,475 757,483.8 763.8,491.2 770,496.2 780,493.8 790,492.5 797.5,490.5 798.8,495 793.8,505 787.5,515 780,525 772.5,535 766.2,542.5 761.2,550 756.2,560 753.8,570 755.6,579.2 757,588.3 757.4,599.3 756.5,607.6 752.8,613.1 746.4,618.5 739.1,625 734.5,630.5 736.3,636 735.4,643.3 731.8,648.8 726.3,654.3 725.3,661.6 721.7,668.9 715.3,676.3 707.9,682.7 700.6,687.3 693.3,689.1 682.3,690 674,691.8 669.5,685.4 667.6,676.3 665.8,667.1 661.2,661.6 659.4,652.4 657.6,643.3 653.9,634.1 650.2,625 647.5,615.8 648.4,606.6 651.1,595.6 653,586.5 653.9,577.3 651.2,570 647.5,560 642.5,552.5 638.8,545 637.5,535 640,527.5 637.5,522.5 632.5,520 625,522.5 620,515 612.5,513.8 602.5,517.5 592.5,520 582.5,521.2 575,522.5 567.5,517.5 560,511.2 553.8,505 552.5,497.5 545,492.5 540,485 538.8,477.5 542.5,470 543.8,460 541.2,452.5 545,445 551.2,437.5 557.5,430 563.8,422.5 570,415 572.5,407.5 577.5,400 582.5,392.5Z"/>
<path fill="#f2eae8" d="M587.5,385.5 600,387.5 598.8,395 600,401.2 592.5,405 585,410 578.8,413.8 572.5,415 570,415 572.5,407.5 577.5,400 582.5,392.5Z"/>
<path d="M570,415 572.5,415 572.5,426.2 560,426.2 560,430 555,431.2 552.5,445 541.2,452.5 545,445 551.2,437.5 557.5,430 563.8,422.5Z"/>
<path d="M600,387.5 610,383.8 625,382.5 637.5,382 636.2,390 637.5,400 640,410 641.2,420 640,432.5 647.5,441.2 633.8,450 618.8,458.8 616.2,455 580,432.5 572.5,427.5 572.5,415 585,410 592.5,405 600,401.2 598.8,395Z"/>
<path d="M637.5,382 642.5,387.5 641.2,395 645,401.2 640,410 637.5,400 636.2,390Z"/>
<path d="M645,401.2 655,403.8 667.5,407.5 677.5,401.2 686.2,401.2 695,406.2 696.2,432.5 696.2,455 692.5,456.2 660,441.2 656.2,443.8 647.5,441.2 640,432.5 641.2,420 640,410Z"/>
<path fill="#f2eae8" d="M695,406.2 705,407.5 715,406.2 727.5,407.5 730.8,411.2 728.8,418.8 725,413.8 722.5,415 726.2,423.8 731.2,433.8 737,446.2 696.2,446.2 696.2,432.5Z"/>
<path d="M696.2,446.2 737,446.2 738,443.8 742,455 745.8,466.2 743.8,470 741.2,480 737.5,490 735,500 730,497.5 725,492.5 717.5,500 710,501.2 700,497.5 695,500 692.5,492.5 688.8,485 690,475 693.8,470 692.5,456.2 696.2,455Z"/>
<path d="M660,441.2 692.5,456.2 693.8,470 690,475 688.8,485 692.5,492.5 685,500 675,506.2 665,508.8 660,500 656.2,492.5 657.5,485 656.2,480 662.5,455Z"/>
<path d="M618.8,458.8 633.8,450 647.5,441.2 656.2,443.8 660,441.2 662.5,455 656.2,480 650,483.8 640,485 630,486.2 622.5,482.5 617.5,487.5 607.5,480 602.5,477.5 612.5,477.5 617.5,472.5Z"/>
<path d="M580,432.5 616.2,455 618.8,458.8 617.5,472.5 612.5,477.5 602.5,477.5 595,482.5 590,488.8 585,495 580,490 572.5,487.5 567.5,488.8 560,487.5 557.5,477.5 582.5,475Z"/>
<path d="M572.5,426.2 580,432.5 582.5,475 557.5,477.5 552.5,472.5 543.8,470 543.8,460 541.2,452.5 552.5,445 555,431.2 560,430 560,426.2Z"/>
<path d="M543.8,470 552.5,472.5 557.5,477.5 560,487.5 552.5,490 545,492.5 540,485 538.8,477.5Z"/>
<path d="M545,492.5 552.5,490 560,487.5 567.5,488.8 572.5,487.5 573.8,497.5 571.2,505 575,515 575,522.5 567.5,517.5 560,511.2 553.8,505 552.5,497.5Z"/>
<path fill="#f2eae8" d="M573.8,497.5 580,490 585,495 592.5,497.5 593.8,510 592.5,520 582.5,521.2 575,522.5 575,515 571.2,505Z"/>
<path d="M585,495 590,488.8 595,482.5 602.5,477.5 607.5,480 617.5,487.5 612.5,492.5 605,493.8 595,495 592.5,497.5Z"/>
<path fill="#f2eae8" d="M592.5,497.5 595,495 605,493.8 606.2,502.5 607.5,513.8 602.5,517.5 592.5,520 593.8,510Z"/>
<path d="M605,493.8 612.5,492.5 617.5,487.5 616.2,500 615,513.8 607.5,513.8 606.2,502.5Z"/>
<path d="M610.5,493 611.2,513.8"/>
<path d="M617.5,487.5 622.5,482.5 630,486.2 640,485 650,483.8 656.2,480 657.5,485 656.2,492.5 660,500 653.8,506.2 647.5,512.5 640,515 637.5,522.5 632.5,520 625,522.5 620,515 615,513.8 616.2,500Z"/>
<path d="M656.2,492.5 660,500 665,508.8 661.2,517.5 667.5,526.2 666.2,532.5 657.5,533.8 647.5,533.8 640,532.5 640,527.5 637.5,522.5 640,515 647.5,512.5 653.8,506.2Z"/>
<path d="M665,508.8 675,506.2 685,500 692.5,492.5 695,500 700,497.5 706.2,508.8 710,517.5 720,523.8 710,522.5 700,520 690,522.5 680,520 675,523.8 667.5,526.2 661.2,517.5Z"/>
<path fill="#f5f5f5" d="M695,500 700,497.5 710,501.2 717.5,500 725,492.5 730,497.5 735,500 731.2,507.5 737.5,517.5 735,523.8 727.5,525 720,523.8 710,517.5 706.2,508.8Z"/>
<path fill="#f2eae8" d="M735,500 737.5,490 741.2,480 745,478.8 753.8,480 761.2,483.8 763.8,492.5 767.5,498.8 785,506.2 775,517.5 765,525 755,527.5 746.2,523.8 737.5,517.5 731.2,507.5Z"/>
<path d="M741.2,480 743.8,470 745.8,466.2 750.8,475 757,483.8 761.2,487.5 753.8,481.2 745,478.8Z"/>
<path d="M766.2,492.5 770,496.2 780,493.8 790,492.5 797.5,490.5 798.8,495 793.8,505 787.5,515 780,525 772.5,535 766.2,542.5 761.2,550 760,540 760,530 765,525 775,517.5 785,506.2 767.5,498.8 763.8,492.5Z"/>
<path fill="#f2eae8" d="M737.5,517.5 746.2,523.8 755,527.5 765,525 760,530 760,540 761.2,550 756.2,560 745,550 735,545 736.2,535 733.8,527.5 735,523.8Z"/>
<path d="M720,523.8 727.5,525 735,523.8 733.8,527.5 736.2,535 735,545 727.5,545 720,546.2 718.8,537.5 722.5,530Z"/>
<path fill="#f2eae8" d="M720,546.2 727.5,545 735,545 745,550 756.2,560 753.8,570 755.6,579.2 757,588.3 748.2,590.2 737.3,592 734.5,586.5 730.8,584.7 728.1,581 718.9,578.2 717.5,565 715,555 717.5,548.8Z"/>
<path d="M667.5,526.2 675,523.8 680,520 690,522.5 700,520 710,522.5 720,523.8 722.5,530 718.8,537.5 720,546.2 717.5,548.8 715,555 717.5,565 718.9,578.2 712.5,581 714.4,588.3 715.3,598.4 711.6,596.6 706.1,592.9 695.1,593.8 693.3,589.2 686.9,590.2 688.7,579.2 686.2,575 677.5,573.8 670,575 667.5,568.8 653.8,567.5 651.2,570 647.5,560 652.5,561.2 660,560 665,550 668.8,542.5 672.5,532.5 670,530Z"/>
<path d="M666.2,532.5 670,530 672.5,532.5 668.8,542.5 665,550 660,560 652.5,561.2 647.5,560 642.5,552.5 647.5,550 648.8,542.5 656.2,545 658.8,540 657.5,533.8Z"/>
<path d="M640,532.5 647.5,533.8 657.5,533.8 658.8,540 656.2,545 648.8,542.5 647.5,550 642.5,552.5 638.8,545 637.5,535Z"/>
<path fill="#ffffff" d="M725,542.5 732.5,541.2 733.8,546.2 730,551.2 725,550Z"/>
<path d="M651.2,570 653.8,567.5 667.5,568.8 670,575 677.5,573.8 686.2,575 688.7,579.2 686.9,590.2 687.8,597.5 687.8,606.6 689.6,618.5 682.3,619.1 673.1,617.6 656.6,616.7 647.5,615.8 648.4,606.6 651.1,595.6 653,586.5 653.9,577.3Z"/>
<path fill="#c4dced" d="M664.9,665.3 669.5,666.2 675,665.3 678.6,657.9 678.6,650.6 681.4,656.1 686,654.3 690.5,651.5 695.1,652.4 700.6,648.8 705.2,644.2 709.8,640.5 715.3,639.3 720.8,638.7 722.6,643.3 723.5,650.6 726.3,654.3 725.3,661.6 721.7,668.9 715.3,676.3 707.9,682.7 700.6,687.3 693.3,689.1 682.3,690 674,691.8 669.5,685.4 667.6,676.3 665.8,669.8Z"/>
<path fill="#f8f8f8" d="M704.3,669.8 707,667.1 710.1,668 709.8,670.8 706.1,672.6Z"/>
<path fill="#f8f8f8" d="M718,656.1 719.8,653.9 721.7,656.1 720.8,659.4 718.6,658.9Z"/>
<path fill="#f2eae8" d="M647.5,615.8 656.6,616.7 673.1,617.6 682.3,619.1 689.6,618.5 693.3,618 683.2,621.3 682.3,632.3 681.4,643.3 678.6,650.6 678.6,657.9 675,665.3 669.5,666.2 664.9,665.3 661.2,661.6 659.4,652.4 657.6,643.3 653.9,634.1 650.2,625Z"/>
<path fill="#f2eae8" d="M683.2,621.3 693.3,619.5 698.8,620.4 702.4,626.8 707.9,632.3 711.6,636.9 715.3,639.3 709.8,640.5 705.2,644.2 700.6,648.8 695.1,652.4 690.5,651.5 686,654.3 681.4,656.1 678.6,650.6 681.4,643.3 682.3,632.3Z"/>
<path d="M698.8,620.4 706.1,617.6 713.4,611.2 718.9,609.4 725.3,614 726.3,623.1 724.4,632.3 720.8,638.7 715.3,639.3 711.6,636.9 707.9,632.3 702.4,626.8Z"/>
<path fill="#f2eae8" d="M718.9,609.4 717.1,605.7 728.1,603 732.7,604.8 734.5,612.1 737.3,614 736.3,601.1 737.3,592 748.2,590.2 757.4,588.3 757.4,599.3 756.5,607.6 752.8,613.1 746.4,618.5 739.1,625 734.5,630.5 736.3,636 735.4,643.3 731.8,648.8 726.3,654.3 723.5,650.6 722.6,643.3 720.8,638.7 724.4,632.3 726.3,623.1 725.3,614Z"/>
<path d="M686.9,590.2 693.3,589.2 695.1,593.8 706.1,592.9 711.6,596.6 715.3,598.4 714.4,588.3 712.5,581 718.9,578.2 728.1,581 730.8,584.7 731.8,593.8 732.7,604.8 728.1,603 717.1,605.7 718.9,609.4 713.4,611.2 706.1,617.6 698.8,620.4 693.3,619.5 689.6,618.5 687.8,606.6 687.8,597.5Z"/>
<path d="M730.8,584.7 734.5,586.5 736.3,592 736.3,601.1 737.3,614 734.5,612.1 733.6,603 731.8,593.8Z"/>
<path d="M790.4,592.9 793.1,599.3 794,608.5 791.3,615.8 788.6,625 784.9,634.1 781.2,643.3 777.6,649.7 772.1,652.4 767.5,650.6 765.6,643.3 764.7,636 766.6,628.6 769.3,621.3 770.2,614 775.7,610.3 781.2,606.6 785.8,600.2Z"/>
<path d="M766.6,589.2 767.7,589.2 769.5,595.6 768.4,595.6Z"/>
<path d="M809.6,632.3 812,632.3 812.4,634.5 810.2,634.1Z"/>
<path d="M817.9,628.3 820.1,628.6 819.7,630.8 817.9,630.5Z"/>
<path fill="#e9ecf0" d="M731.8,415.6 734,413.4 737.7,410.4 742.1,406.8 745.1,400.8 749.5,403.1 756.9,406.8 764.3,411.9 771.7,415.6 776.8,414.9 779,417.1 783.5,421.5 787.9,428.9 792.3,433.3 796.8,438.5 799,442.2 808.6,443.7 810,448.1 808.6,452.5 802.5,457.5 790,461.2 780,463.8 770,467.5 766.2,475 761.2,470 757.5,462.5 752.5,452.5 746.2,442.5 740,432.5 735,422.5Z"/>
<path fill="#f0d5ce" d="M797.5,440 801.2,438.5 805.6,435.5 810,431.8 812.3,430.4 812.7,434.8 810.8,440.7 809.3,443.9 799.7,442.9Z"/>
<path d="M792.3,430.4 794.2,429.6 794.5,433.3 792.8,434.1Z"/>
<path d="M812.3,433.3 815.9,437.7 821.8,441.4 825.5,444.4 824.1,449.6 820.4,455.5 815.9,461.4 817.5,460 810,466.2 802.5,470 800,462.5 802.5,457.5 808.6,452.5 810,448.1 809.3,443.9 810.8,440.7Z"/>
<path d="M766.2,475 770,467.5 780,463.8 790,461.2 802.5,457.5 800,462.5 802.5,470 792.5,476.2 780,481.2 770,486.2 766.2,482.5Z"/>
<path d="M805,487.5 810,486.5 809.5,489Z"/>
<path d="M538.8,421.2 542.5,418.8 543.8,420.5 540,422.5Z"/>
<path d="M547.5,418.8 551.2,416.2 552,418 548.2,420Z"/>
<path d="M972.5,470 977.5,480 981.2,492.5 983.8,505 988.8,512.5 995,520 1000,531.2 1001.2,537.5 996.2,535 990,526.2 983.8,517.5 978.8,507.5 976.2,495 973.8,482.5 970,472.5Z"/>
<path fill="#f2eae8" d="M966.2,517.5 975,521.2 985,530 995,538.8 1002.5,547.5 1007.5,555 1006.2,566.2 1001.2,566.2 993.8,557.5 985,547.5 977.5,537.5 970,527.5Z"/>
<path fill="#f2eae8" d="M1005,568.8 1015,568.8 1027.5,571.2 1040,575 1052.5,577.5 1051.2,580 1037.5,578 1025,576.2 1012.5,573.8 1005.5,571.2Z"/>
<path fill="#f2eae8" d="M1053.8,578 1070,577.5 1085,576.2 1087.5,578.8 1076.2,581.2 1057.5,580.5Z"/>
<path d="M1070,587.5 1080,581.2 1086.2,578.8 1080,585 1072.5,588.8Z"/>
<path d="M1055,583.8 1061.2,583.8 1060,586.2 1055.5,585.8Z"/>
<path fill="#f2eae8" d="M1018.8,538.8 1022.5,532.5 1027.5,530 1035,528.8 1041.2,523.8 1047.5,522.5 1052.5,526.2 1053.8,535 1056.2,537.5 1050,545 1047.5,553.8 1046.2,558.8 1038.8,556.2 1030,557.5 1025,553.8 1020,545Z"/>
<path d="M1027.5,530 1035,526.2 1041.2,520 1047.5,513.8 1053.8,517.5 1057.5,520 1052.5,526.2 1047.5,522.5 1041.2,523.8 1035,528.8Z"/>
<path d="M1061.2,538.8 1070,536.2 1080,535 1078.8,538.8 1070,541.2 1066.2,545 1071.2,550 1075,555 1068.8,552.5 1071.2,562.5 1072.5,566.2 1067.5,562.5 1063.8,556.2 1061.2,566.2 1057.5,562.5 1058.8,552.5 1057.5,545Z"/>
<path d="M1090,531.2 1093.8,532.5 1092.5,540 1095,546.2 1090,545 1088.8,537.5Z"/>
<path d="M1083.8,556.2 1095,553.8 1102.5,555 1100,558.8 1090,558.8Z"/>
<path fill="#f2eae8" d="M1101.2,542.5 1110,543.8 1115,550 1120,552.5 1130,548.8 1140,553.8 1139.5,581.2 1132.5,578.8 1127.5,577.5 1130,572.5 1125,565 1120,557.5 1112.5,558.8 1107.5,552.5 1103.8,547.5Z"/>
<path d="M1140,553.8 1150,557.5 1157.5,562.5 1161.2,570 1167.5,575 1175,583.8 1176.2,587.5 1168.8,585 1162.5,580 1155,576.2 1147.5,580 1139.5,581.2Z"/>
<path d="M1166.2,568.8 1175,565 1183.8,560 1186.2,555 1182.5,553.8 1180,560 1172.5,563.8 1165,566.2Z"/>
<path d="M1192.5,566.2 1200,571.2 1198.8,573 1192,568Z"/>
<path d="M1202.5,575 1210,580 1208.8,581.8 1201.5,576.8Z"/>
<path d="M1211.2,581.2 1218,586.2 1217,588 1210,583Z"/>
<path d="M1232.5,605 1235,605 1237.5,611.2 1237,617.5 1235,617 1234.5,610.5Z"/>
<path d="M1217.5,628.8 1225,636.2 1223.8,638.8 1216.2,631.2Z"/>
<path d="M1270,617.5 1277.5,612.5 1280.5,613.8 1273,620Z"/>
<path fill="#f2eae8" d="M1056.2,470 1063.8,470 1065,480 1070,482.5 1076.2,487.5 1080,495 1072.5,493.8 1066.2,488.8 1060,482.5 1056.2,475Z"/>
<path fill="#f2eae8" d="M1056.2,463.5 1061.8,462.4 1064,470.1 1060.7,476.7 1065.1,483.3 1071.7,487.8 1058.4,481.1 1056.2,472.3Z"/>
<path fill="#f2eae8" d="M1068.8,493.8 1080,495 1083.8,502.5 1085,512.5 1080,517.5 1075,512.5 1076.2,507.5 1068.8,511.2 1067.5,505 1071.2,500Z"/>
<path d="M1047.5,507.5 1052.5,498.8 1057.5,490 1059.5,491.2 1053.8,501.2 1049.2,509.5Z"/>
<path d="M953.8,483.8 955.5,483.8 955,492.5 953.5,492Z"/>
<path fill="#ededf0" d="M1023.8,652.5 1026.2,640 1032.5,632.5 1042.5,628.8 1052.5,626.2 1060,620 1065,613.8 1072.5,607.5 1080,602.5 1087.5,601.2 1091.2,605 1096.2,595 1102.5,592.5 1112.5,591.2 1120,593.8 1117.5,600 1115,606.2 1122.5,611.2 1130,617.5 1136.2,612.5 1138.8,602.5 1141.2,592.5 1143.8,587.5 1147.5,597.5 1151.2,607.5 1152.5,617.5 1158.8,627.5 1164.3,639.9 1171,650.9 1169.9,661.9 1164.3,672.9 1156.6,682.9 1147.8,690.6 1139,699.4 1132.4,704.9 1120.2,708.2 1110.3,709.3 1102.6,704.9 1100.4,697.2 1102.6,690.6 1102.6,684 1097.1,692.8 1091.5,696.1 1091.5,688.4 1088.2,681.8 1081.6,678.5 1070.6,679.6 1061.8,681.8 1052.9,685.1 1046.3,688.4 1037.5,689.5 1026.5,692.8 1018.8,690.6 1022.1,681.8 1024.3,670.7 1023.2,661.9Z"/>
<path fill="#ededf0" d="M1105.9,729.2 1109.2,719.3 1116.9,717.1 1124.6,713.8 1122.4,720.4 1116.9,725.9 1111.4,729.2Z"/>
<path d="M1225,690.6 1228.3,692.8 1229.4,701.6 1237.1,704.9 1231.6,709.3 1225,714.9 1217.3,720.4 1212.9,721.5 1215.1,714.9 1221.7,709.3 1225,701.6Z"/>
<path d="M1206.3,718.2 1209.6,720.4 1204,725.9 1194.1,731.4 1185.3,736.9 1176.5,742.4 1169.9,744.6 1168.8,740.2 1176.5,734.7 1187.5,729.2 1198.5,722.6Z"/>
<path fill="#e0dad9" d="M177,286.8 186.2,290.5 191.2,300 189.5,312.5 191.2,325 195.5,335 193,336.5 188,332 184.5,324.5 179,317.5 181.5,300Z"/>
<path fill="none" stroke="#cf6a58" stroke-width="1.2" d="M178,287.5 185,291.5 189.5,298 190.5,303"/>
<path fill="#2f8fce" d="M865.3,371.4 871.3,368.4 876.6,364.6 882.6,359.3 881.1,351.8 884.1,348.7 886.4,343.5 891.7,340.5 892.4,335.2 895.5,332.9 902.2,335.9 908.3,341.2 912,346.5 920.3,350.3 927.9,354 935.4,357.8 944.5,360.1 953.5,360.8 962.6,363.1 968.6,363.1 976.2,360.1 983.7,357.8 988.2,353.3 987.5,349.5 992.8,348 997.3,345 1003.3,343.5 1008.6,341.2 1005.6,338.2 999.5,335.2 992.8,333.7 992,330.6 996.5,326.9 997.3,321.6 994.3,316.3 997.3,314.4 1004.8,314.8 1012.4,317.8 1018.4,321.6 1022.9,326.1 1029,330.6 1036.5,332.9 1042.5,335.2 1050.1,337.4 1053.8,335.9 1056.1,341.2 1054.6,345.7 1050.8,348 1053.1,353.3 1051.6,357.8 1046.3,360.8 1042.5,365.3 1037.3,369.1 1033.5,370.6 1030.5,366.8 1025.9,367.6 1022.2,371.4 1019.1,374.4 1022.2,377.4 1027.4,379.7 1032,378.9 1035.7,381.9 1032.7,386.5 1032,390.2 1036.4,394.1 1041.9,399.5 1045.3,405 1048,411.8 1048.7,418.6 1046.6,425.4 1045.3,430.8 1041.9,434.9 1038.5,438.3 1033.7,441 1029,443.7 1026.2,445.8 1021.5,447.8 1016.7,449.9 1014.7,450.5 1012.6,448.5 1008.6,446.5 1004.5,444.4 1000.4,442.4 995.6,441 991.5,442.4 987.5,444.4 984.1,446.5 980,447.1 976.6,445.1 973.9,442.4 970.5,439 967.7,434.9 968.4,430.8 969.1,426.7 965.7,422.6 961.6,419.2 958.2,415.8 954.1,415.2 949.4,416.5 945.3,419.2 939.9,420.6 934.4,420.2 929,419.2 922.2,417.9 915.4,415.8 908.6,413.1 901.8,409.7 896.3,406.3 892.2,402.9 890.2,398.2 888.2,394.1 886.4,391 879.6,386.5 875.1,381.9 869.1,377.4Z"/>
<path fill="#2f8fce" d="M1011.3,458.7 1014,456.7 1017.4,457.3 1018.1,460.1 1015.4,462.1 1012,461.4Z"/>
</g>
</svg>
<h1 id="title">CO2 imports and exports from trade, 2014</h1>
<div id="zoom"><div id="zin">+</div><div id="zout">&#8722;</div></div>
<div id="legtitle">MtCO2</div>
<div id="bar"><i style="left:167px"></i><i style="left:336px"></i></div>
<div class="lab" style="left:401px">&#8722;600</div>
<div class="lab" style="left:546px">&#8722;300</div>
<div class="lab" style="left:733px">0</div>
<div class="lab" style="left:877px">300</div>
<div id="cb"><span class="c">C</span><span class="b">B</span></div>
<div id="bottom"></div>
</body>
</html>
